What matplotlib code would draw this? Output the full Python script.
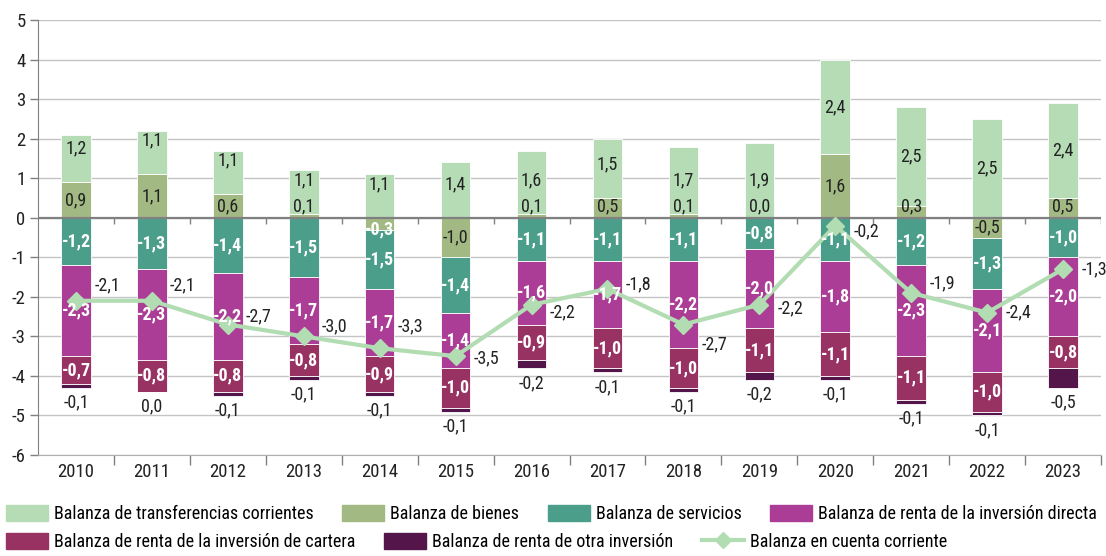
import numpy as np
import matplotlib
matplotlib.use("Agg")
import matplotlib.pyplot as plt
from matplotlib import font_manager
from matplotlib.patches import Patch
from matplotlib.lines import Line2D

# pick a narrow font if one is around
names = set(f.name for f in font_manager.fontManager.ttflist)
font = "Roboto"
for cand in ["Roboto Condensed", "Liberation Sans Narrow", "DejaVu Sans Condensed", "Open Sans Condensed"]:
    if cand in names:
        font = cand
        break
plt.rcParams['font.family'] = [font, 'DejaVu Sans']

years = [2010, 2011, 2012, 2013, 2014, 2015, 2016, 2017, 2018, 2019, 2020, 2021, 2022, 2023]
transferencias = [1.2, 1.1, 1.1, 1.1, 1.1, 1.4, 1.6, 1.5, 1.7, 1.9, 2.4, 2.5, 2.5, 2.4]
bienes = [0.9, 1.1, 0.6, 0.1, -0.3, -1.0, 0.1, 0.5, 0.1, 0.0, 1.6, 0.3, -0.5, 0.5]
servicios = [-1.2, -1.3, -1.4, -1.5, -1.5, -1.4, -1.1, -1.1, -1.1, -0.8, -1.1, -1.2, -1.3, -1.0]
renta_directa = [-2.3, -2.3, -2.2, -1.7, -1.7, -1.4, -1.6, -1.7, -2.2, -2.0, -1.8, -2.3, -2.1, -2.0]
renta_cartera = [-0.7, -0.8, -0.8, -0.8, -0.9, -1.0, -0.9, -1.0, -1.0, -1.1, -1.1, -1.1, -1.0, -0.8]
renta_otra = [-0.1, 0.0, -0.1, -0.1, -0.1, -0.1, -0.2, -0.1, -0.1, -0.2, -0.1, -0.1, -0.1, -0.5]
cuenta_corriente = [-2.1, -2.1, -2.7, -3.0, -3.3, -3.5, -2.2, -1.8, -2.7, -2.2, -0.2, -1.9, -2.4, -1.3]

# vertical nudge of the current-account labels (layout only)
cc_label_dy = [0.4, 0.4, 0.2, 0.25, 0.55, -0.05, -0.2, 0.12, -0.5, -0.08, -0.15, 0.23, 0.0, 0.0]

labels = ["Balanza de transferencias corrientes", "Balanza de bienes", "Balanza de servicios",
          "Balanza de renta de la inversión directa", "Balanza de renta de la inversión de cartera",
          "Balanza de renta de otra inversión", "Balanza en cuenta corriente"]
colors = {"transf": "#b5dcb5", "bienes": "#a2b983", "serv": "#4a9e8a", "dir": "#ab3d96",
          "cart": "#983263", "otra": "#54164a", "cc": "#b2dcb2"}

def fmt(v):
    return ("%.1f" % v).replace(".", ",").replace("-0,0", "0,0")

fig = plt.figure(figsize=(11.06, 5.56), dpi=100)
ax = fig.add_axes([38/1106, 1-455/556, 1063/1106, 435/556])

x = np.arange(len(years))
w = 0.39
pos = np.zeros(len(years))
neg = np.zeros(len(years))
dark = "#222222"

# (key, values, sits on the negative side when zero)
series = [("bienes", bienes, False), ("transf", transferencias, False), ("serv", servicios, True),
          ("dir", renta_directa, True), ("cart", renta_cartera, True), ("otra", renta_otra, True)]
for key, vals, negside in series:
    vals = np.array(vals)
    down = (vals < 0) | ((vals == 0) & negside)
    bottom = np.where(down, neg, pos)
    ax.bar(x, vals, w, bottom=bottom, color=colors[key], edgecolor="white", linewidth=0.6, zorder=2)
    for i, v in enumerate(vals):
        c = bottom[i] + v / 2
        if key == "transf":
            ax.text(x[i], max(c, bottom[i] + 0.85), fmt(v), ha="center", va="center", fontsize=13,
                    color=dark, zorder=5)
        elif key == "bienes":
            if v >= 0:
                ax.text(x[i], max(c, 0.28), fmt(v), ha="center", va="center", fontsize=13, color=dark, zorder=5)
            elif abs(v) < 0.4:
                ax.text(x[i], -0.3, fmt(v), ha="center", va="center", fontsize=13, color="white",
                        fontweight="bold", zorder=5)
            else:
                ax.text(x[i], min(c, -0.25), fmt(v), ha="center", va="center", fontsize=13, color=dark, zorder=5)
        elif key == "otra":
            ax.text(x[i], bottom[i] + v - 0.15, fmt(v), ha="center", va="top", fontsize=13, color=dark, zorder=5)
        else:
            ax.text(x[i], c, fmt(v), ha="center", va="center", fontsize=13, color="white",
                    fontweight="bold", zorder=5)
    pos = np.where(down, pos, pos + vals)
    neg = np.where(down, neg + vals, neg)

ax.plot(x, cuenta_corriente, color=colors["cc"], lw=3, marker="D", ms=9, zorder=4)
for i, v in enumerate(cuenta_corriente):
    ax.text(x[i] + 0.24, v + cc_label_dy[i], fmt(v), ha="left", va="center", fontsize=13, color=dark, zorder=5)

ax.set_xlim(-0.5, len(years) - 0.5)
ax.set_ylim(-6, 5)
ax.set_yticks(range(-6, 6))
ax.set_yticklabels([str(t) for t in range(-6, 6)], fontsize=13.5, color=dark)
ax.yaxis.grid(True, color="#c4c4c4", lw=1, zorder=0)
ax.axhline(0, color="#808080", lw=1.6, zorder=3)

ax.set_xticks(np.arange(0.5, len(years), 1))
ax.set_xticklabels([])
ax.set_xticks(x, minor=True)
ax.set_xticklabels([str(y) for y in years], minor=True, fontsize=13.5, color=dark)
ax.tick_params(axis="x", which="major", length=7, color="#808080", width=1)
ax.tick_params(axis="x", which="minor", length=0, pad=6)
ax.tick_params(axis="y", length=6, color="#808080", width=1, pad=3)
# boundary ticks hanging from the zero line
ax.vlines(np.arange(0.5, len(years), 1), 0, -0.17, color="#808080", lw=1, zorder=3)

for s in ["top", "right"]:
    ax.spines[s].set_visible(False)
ax.spines["left"].set_color("#808080")
ax.spines["bottom"].set_color("#b0b0b0")

handles = [Patch(color=colors[k]) for k in ["transf", "bienes", "serv", "dir", "cart", "otra"]]
handles.append(Line2D([], [], color=colors["cc"], lw=3, marker="D", ms=8))
kw = dict(frameon=False, fontsize=13, handlelength=2.3, handleheight=1.0, handletextpad=0.35,
          columnspacing=1.6, borderaxespad=0, borderpad=0)
fig.legend(handles[:4], labels[:4], ncol=4, loc="upper left", bbox_to_anchor=(6/1106, 1-505/556), **kw)
fig.legend(handles[4:], labels[4:], ncol=3, loc="upper left", bbox_to_anchor=(6/1106, 1-533/556), **kw)

fig.savefig("out.png", dpi=100)
